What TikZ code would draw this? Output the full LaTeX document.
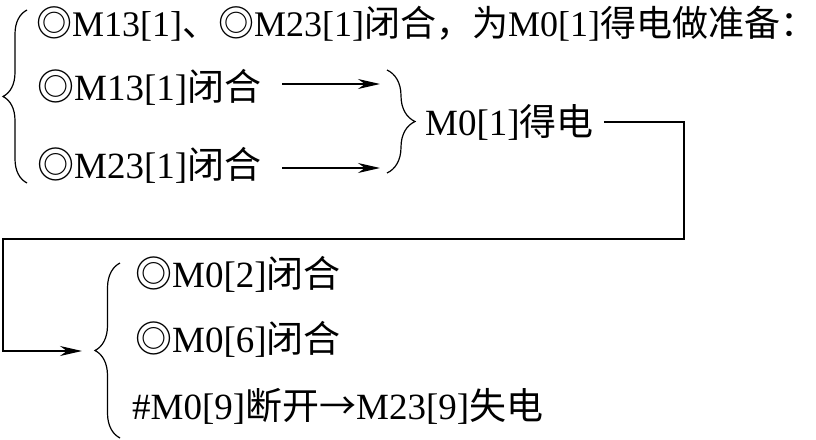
\documentclass[tikz,border=0pt]{standalone}
\usepackage{fontspec}
\setmainfont{Liberation Serif}
\newfontfamily\cjk{Noto Sans CJK SC}
\newcommand{\zh}[1]{{\cjk #1}}
\usetikzlibrary{calc, positioning}
\usetikzlibrary{arrows.meta}
\usetikzlibrary{decorations.pathreplacing}

\tikzset{
  line/.style={line width=1.2pt},
  flow/.style={line, -{Stealth[length=22pt,width=10pt,inset=7pt]}},
  curly/.style={line, decorate, decoration={brace, amplitude=#1}},
  txt/.style={anchor=base west, inner sep=0pt, font=\fontsize{37}{42}\selectfont},
}

\begin{document}
\begin{tikzpicture}[x=1pt,y=-1pt]
\useasboundingbox (0,0) rectangle (816,439);

% Brace tips and arrow ends
\coordinate (tipA) at (415,122);
\coordinate (inA) at (380,84);
\coordinate (inB) at (380,168);
\coordinate (loopR) at (684,239);
\coordinate (loopL) at (3,351);
\coordinate (inC) at (82,351);

% First group
\node[txt, font=\fontsize{36}{42}\selectfont] (prep) at (36,36)
  {\zh{◎}M13[1]\zh{、◎}M23[1]\zh{闭合，为}M0[1]\zh{得电做准备：}};
\node[txt] (closeA) at (37,100) {\zh{◎}M13[1]\zh{闭合}};
\node[txt] (closeB) at (37,178) {\zh{◎}M23[1]\zh{闭合}};
\draw[curly=24pt] (27,183) -- (27,10);

% Both contacts lead to M0[1]
\draw[flow] ($(closeA.east |- inA)+(21,0)$) -- (inA);
\draw[flow] ($(closeB.east |- inB)+(21,0)$) -- (inB);
\draw[curly=28pt] (387,70) -- (387,173);
\node[txt] (powered) at (425,135) {M0[1]\zh{得电}};

% Return line to the second group
\draw[flow] ($(powered.east |- tipA)+(10,0)$) -| (loopR) -| (loopL) -- (inC);

% Second group
\draw[curly=25pt] (120,438) -- (120,263);
\node[txt] (closeC) at (135,287) {\zh{◎}M0[2]\zh{闭合}};
\node[txt] (closeD) at (135,352) {\zh{◎}M0[6]\zh{闭合}};
\node[txt] (openE) at (132,419) {\#M0[9]\zh{断开→}M23[9]\zh{失电}};
\end{tikzpicture}
\end{document}
